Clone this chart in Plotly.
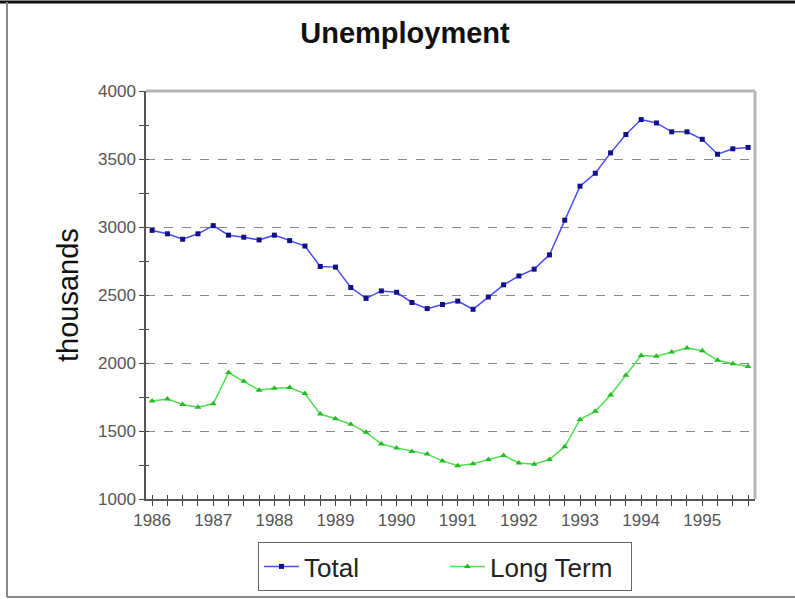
import plotly.graph_objects as go

years = [str(y) for y in range(1986, 1996)]
quarters = [f"{y} Q{q}" for y in range(1986, 1996) for q in range(1, 5)]
tick_labels = [q.split()[0] if q.endswith("Q1") else "" for q in quarters]

total = [2975, 2950, 2910, 2950, 3010, 2940, 2925, 2905, 2940, 2900,
         2860, 2710, 2705, 2555, 2475, 2530, 2520, 2445, 2400, 2430,
         2455, 2395, 2485, 2575, 2640, 2690, 2795, 3050, 3300, 3395,
         3545, 3680, 3790, 3765, 3700, 3700, 3645, 3535, 3575, 3585]

long_term = [1720, 1735, 1695, 1675, 1700, 1930, 1865, 1800, 1815, 1820,
             1775, 1625, 1590, 1550, 1490, 1405, 1375, 1350, 1330, 1280,
             1245, 1260, 1290, 1320, 1265, 1255, 1290, 1385, 1585, 1645,
             1765, 1910, 2055, 2050, 2080, 2110, 2090, 2020, 1995, 1975]

y_major = [1000, 1500, 2000, 2500, 3000, 3500, 4000]

idx = list(range(len(quarters)))

fig = go.Figure()
fig.add_trace(go.Scatter(
    x=idx, y=total, name="Total", mode="lines+markers",
    line=dict(color="#4b4bf5", width=1.5),
    marker=dict(symbol="square", size=5, color="#10108a"),
    hovertext=quarters,
))
fig.add_trace(go.Scatter(
    x=idx, y=long_term, name="Long Term", mode="lines+markers",
    line=dict(color="#4fe04f", width=1.5),
    marker=dict(symbol="triangle-up", size=6, color="#22bb22"),
    hovertext=quarters,
))
# invisible helper trace for overlay axes (crossing ticks)
fig.add_trace(go.Scatter(x=idx, y=total, xaxis="x2", yaxis="y2", mode="lines",
                         line=dict(width=0), opacity=0, showlegend=False,
                         hoverinfo="skip"))

PL, PR, PT, PB = 146, 755, 91, 499
W, H = 795, 599
def px(p):
    return (p - PL) / (PR - PL)
def py(p):
    return (PB - p) / (PB - PT)

axis_font = dict(family="Liberation Sans, Arial", size=17, color="#555555")
xr = [-0.4, 39.45]
yr = [1000, 4000]

fig.update_layout(
    width=W, height=H,
    margin=dict(l=PL, r=W - PR, t=PT, b=H - PB, autoexpand=False),
    paper_bgcolor="white", plot_bgcolor="white",
    title=dict(text="<b>Unemployment</b>", x=405 / W, xref="container", xanchor="center",
               y=1 - 33 / H, yref="container", yanchor="middle",
               font=dict(family="Liberation Sans, Arial", size=29, color="#111111")),
    xaxis=dict(range=xr, tickmode="array", tickvals=idx, ticktext=tick_labels,
               ticks="outside", ticklen=5, tickwidth=1, tickcolor="#444444",
               showline=True, linecolor="#555555", linewidth=1.5,
               showgrid=False, zeroline=False, tickfont=axis_font, tickangle=0),
    xaxis2=dict(range=xr, overlaying="x", side="bottom", tickmode="array", tickvals=idx,
                ticks="inside", ticklen=4, tickwidth=1, tickcolor="#444444",
                showticklabels=False, showline=False, showgrid=False, zeroline=False),
    yaxis=dict(range=yr, tickmode="array", tickvals=y_major,
               ticks="outside", ticklen=5, tickwidth=1, tickcolor="#444444",
               minor=dict(dtick=250, ticks="outside", ticklen=5, tickcolor="#444444", showgrid=False),
               showline=True, linecolor="#555555", linewidth=1.5,
               showgrid=True, gridcolor="#888888", griddash="dash", gridwidth=1,
               zeroline=False, tickfont=axis_font),
    yaxis2=dict(range=yr, overlaying="y", side="left", tickmode="array", tickvals=y_major,
                ticks="inside", ticklen=3, tickwidth=1, tickcolor="#444444",
                minor=dict(dtick=250, ticks="inside", ticklen=3, tickcolor="#444444", showgrid=False),
                showticklabels=False, showline=False, showgrid=False, zeroline=False),
    legend=dict(orientation="h", x=px(258), y=py(542), xanchor="left", yanchor="top",
                bordercolor="#666666", borderwidth=1, bgcolor="white",
                font=dict(family="Liberation Sans, Arial", size=26, color="#222222"),
                entrywidth=136, entrywidthmode="pixels", itemwidth=35),
    annotations=[dict(text="thousands", x=px(68), y=0.5, xref="paper", yref="paper",
                      textangle=-90, showarrow=False, xanchor="center", yanchor="middle",
                      font=dict(family="Liberation Sans, Arial", size=29, color="#111111"))],
    shapes=[
        dict(type="line", xref="paper", yref="paper", x0=0, x1=1, y0=1, y1=1,
             line=dict(color="#b5b5b5", width=3)),
        dict(type="line", xref="paper", yref="paper", x0=1, x1=1, y0=0, y1=1,
             line=dict(color="#b5b5b5", width=3)),
        dict(type="line", xref="paper", yref="paper", x0=px(0), x1=px(W), y0=py(2), y1=py(2),
             line=dict(color="#111111", width=3)),
        dict(type="line", xref="paper", yref="paper", x0=px(7), x1=px(7), y0=py(2), y1=py(597),
             line=dict(color="#888888", width=2)),
        dict(type="line", xref="paper", yref="paper", x0=px(7), x1=px(W), y0=py(597), y1=py(597),
             line=dict(color="#888888", width=2)),
    ],
    showlegend=True,
)

fig.write_html("out.html", config={"displayModeBar": False},
               post_script=("document.documentElement.style.margin='0';"
                            "document.documentElement.style.padding='0';"
                            "document.documentElement.style.overflow='hidden';"
                            "document.body.style.margin='0';"
                            "document.body.style.padding='0';"
                            "document.body.style.overflow='hidden';"))
